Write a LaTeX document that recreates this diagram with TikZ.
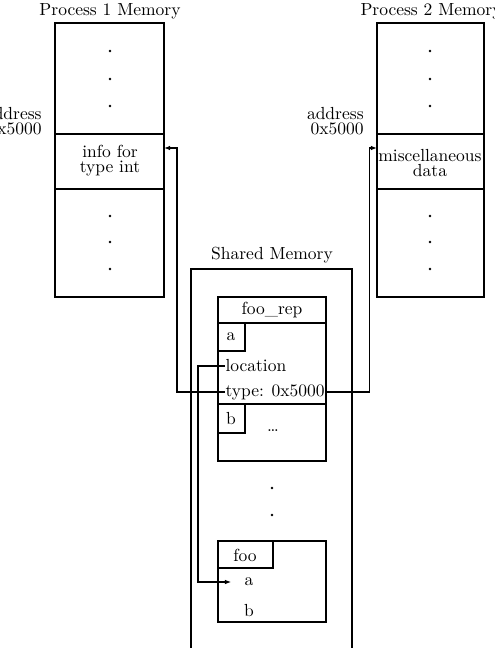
\documentclass[tikz,border=0pt]{standalone}
\usepackage{tikz}
\usetikzlibrary{arrows.meta}

\begin{document}
\begin{tikzpicture}[x=0.5714pt, y=-0.5714pt, line width=0.6pt,
  font=\fontsize{10}{8.6}\selectfont,
  arr/.style={-{Latex[length=3.5pt,width=2.6pt]}},
  txt/.style={inner sep=0pt, anchor=west}]
  \useasboundingbox (0,0) rectangle (494,648);

  % Process 1 memory
  \node (p1title) at (110,11) {Process 1 Memory};
  \draw (55,23) rectangle (164,297);
  \draw (55,134) -- (164,134);
  \draw (55,189) -- (164,189);
  \node[align=right, anchor=east] (p1addr) at (48,121) {address\\0x5000};
  \node[align=center] (info) at (110,161) {info for\\type int};
  \coordinate (p1in) at (164,148);
  \foreach \y in {51,79,106,216,242,269}
    \fill (110,\y) circle (1.4);

  % Process 2 memory
  \node (p2title) at (431,11) {Process 2 Memory};
  \draw (377,23) rectangle (484,297);
  \draw (377,134) -- (484,134);
  \draw (377,189) -- (484,189);
  \node[align=right, anchor=east] (p2addr) at (370,121) {address\\0x5000};
  \node[align=center] (misc) at (430,163) {miscellaneous\\data};
  \coordinate (p2in) at (377,148);
  \foreach \y in {51,79,106,216,242,269}
    \fill (430,\y) circle (1.4);

  % Shared memory
  \node (shtitle) at (272,255) {Shared Memory};
  \draw (191,660) |- (352,269) -- (352,660);

  % foo_rep
  \draw (218,297) rectangle (326,461);
  \draw (218,323) -- (326,323);
  \node (foorep) at (272,310) {foo\_rep};
  \draw (218,351) -| (245,323);
  \node (repa) at (231,337) {a};
  \node[txt] (loc) at (225,366) {location};
  \node[txt] (type) at (225,392) {type: 0x5000};
  \draw (218,404) -- (326,404);
  \draw (218,433) -| (245,404);
  \node (repb) at (231,419) {b};
  \node (more) at (273,431) {\dots};

  \foreach \y in {488,515}
    \fill (272,\y) circle (1.4);

  % foo
  \draw (218,541) rectangle (326,622);
  \draw (218,568) -| (273,541);
  \node (foo) at (245,555) {foo};
  \node[inner xsep=13pt*0.5714, inner ysep=0pt] (fooa) at (249,582) {a};
  \node (foob) at (249,611) {b};

  % pointers
  \draw[arr] (loc.west) -- ++(-27,0) |- (fooa.west);
  \draw[arr] (type.west) -- ++(-48,0) |- (p1in);
  \draw[arr] (type.east) -- ++(44,0) |- (p2in);
\end{tikzpicture}
\end{document}
